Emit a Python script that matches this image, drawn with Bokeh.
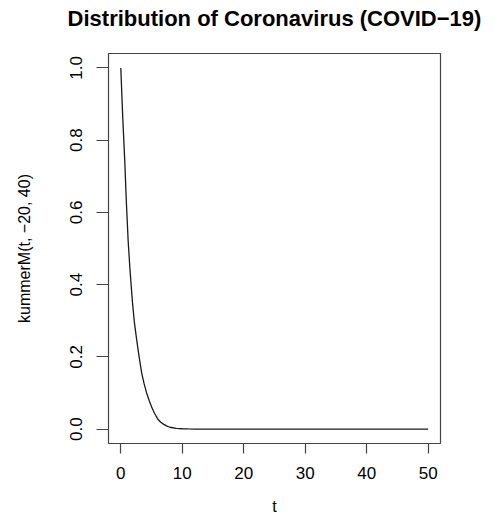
from bokeh.plotting import figure
from bokeh.models import FixedTicker, ColumnDataSource, Title
from bokeh.embed import file_html
from bokeh.resources import INLINE

# Data
t_vals = [0, 0.3, 0.65, 0.9, 1.2, 1.5, 1.9, 2.2, 2.6, 3.0, 3.4, 3.8, 4.2, 4.6, 5.0, 5.5, 6.0,
          6.5, 7.0, 7.5, 8.0, 9.0, 10.0, 11.0, 12.0, 15.0, 20.0, 30.0, 40.0, 50.0]
m_vals = [1.0, 0.87, 0.74, 0.63, 0.52, 0.44, 0.35, 0.297, 0.245, 0.198, 0.155, 0.125, 0.1, 0.08,
          0.062, 0.043, 0.028, 0.019, 0.013, 0.008, 0.005, 0.002, 0.0008, 0.0003, 0.0,
          0.0, 0.0, 0.0, 0.0, 0.0]

x_ticks = [0, 10, 20, 30, 40, 50]
x_tick_labels = ["0", "10", "20", "30", "40", "50"]
y_ticks = [0.0, 0.2, 0.4, 0.6, 0.8, 1.0]
y_tick_labels = ["0.0", "0.2", "0.4", "0.6", "0.8", "1.0"]

title_text = "Distribution of Coronavirus (COVID\u221219)"
x_label = "t"
y_label = "kummerM(t, \u221220, 40)"

FONT = "Liberation Sans"

p = figure(width=493, height=518, x_range=(-2, 52), y_range=(-0.04, 1.04),
           output_backend="svg", toolbar_location=None,
           min_border_left=108, min_border_right=53, min_border_top=53, min_border_bottom=75)

src = ColumnDataSource(dict(t=t_vals, m=m_vals))
p.line("t", "m", source=src, line_color="#1a1a1a", line_width=1.3)

p.grid.visible = False
p.outline_line_color = "#444444"
p.outline_line_width = 1.2
p.background_fill_color = "white"
p.border_fill_color = "white"

# invisible spacer between the frame and the title
spacer = Title(text="\u00a0", align="center", text_font=FONT, text_font_size="19px",
               text_color="white", standoff=0)
p.add_layout(spacer, "above")
title = Title(text=title_text, align="center",
              text_font=FONT, text_font_size="22px", text_font_style="bold",
              text_color="black", standoff=0)
p.add_layout(title, "above")

xa = p.xaxis[0]
xa.ticker = FixedTicker(ticks=x_ticks)
xa.major_label_overrides = {t: l for t, l in zip(x_ticks, x_tick_labels)}
xa.axis_line_color = None
xa.major_tick_line_color = "#444444"
xa.major_tick_line_width = 1.2
xa.major_tick_out = 10
xa.major_tick_in = 0
xa.minor_tick_line_color = None
xa.major_label_text_font = FONT
xa.major_label_text_font_size = "17px"
xa.major_label_text_color = "black"
xa.major_label_standoff = 13
xa.axis_label = x_label
xa.axis_label_text_font = FONT
xa.axis_label_text_font_size = "16px"
xa.axis_label_text_font_style = "normal"
xa.axis_label_text_color = "black"
xa.axis_label_standoff = 16

ya = p.yaxis[0]
ya.ticker = FixedTicker(ticks=y_ticks)
ya.major_label_overrides = {t: l for t, l in zip(y_ticks, y_tick_labels)}
ya.axis_line_color = None
ya.major_tick_line_color = "#444444"
ya.major_tick_line_width = 1.2
ya.major_tick_out = 12
ya.major_tick_in = 0
ya.minor_tick_line_color = None
ya.major_label_orientation = "vertical"
ya.major_label_text_font = FONT
ya.major_label_text_font_size = "17px"
ya.major_label_text_color = "black"
ya.major_label_standoff = 14
ya.axis_label = y_label
ya.axis_label_text_font = FONT
ya.axis_label_text_font_size = "16px"
ya.axis_label_text_font_style = "normal"
ya.axis_label_text_color = "black"
ya.axis_label_standoff = 35

open("out.html", "w").write(file_html(p, INLINE))
